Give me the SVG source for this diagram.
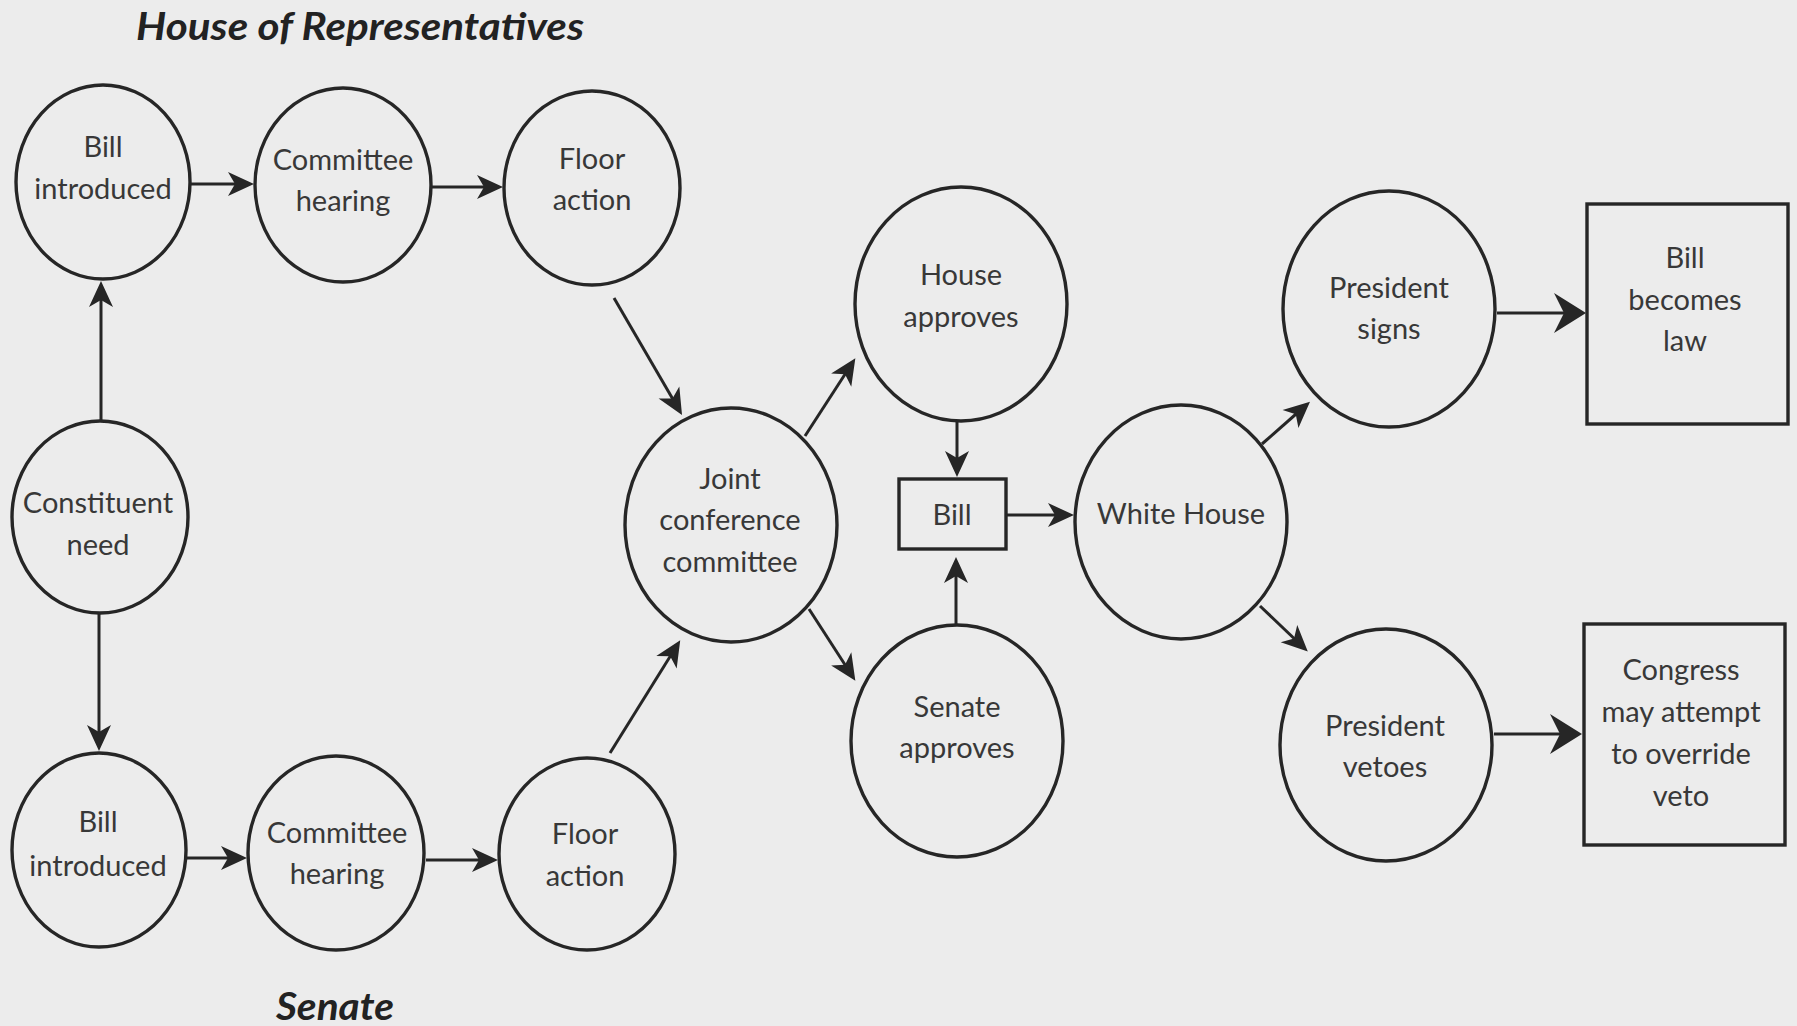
<svg xmlns="http://www.w3.org/2000/svg" width="1797" height="1026" viewBox="0 0 1797 1026">
  <style>
    .node ellipse, .node rect { fill: none; stroke: #262626; stroke-width: 3.4; }
    .node text { font-family: Lato, "Open Sans", "Liberation Sans", sans-serif; font-size: 29px; fill: #383838; text-anchor: middle; }
    .heading { font-family: Lato, "Open Sans", "Liberation Sans", sans-serif; font-weight: 700; font-style: italic; font-size: 38px; fill: #222; }
    #connectors line { stroke: #262626; stroke-width: 3; fill: none; }
    .arrow { marker-end: url(#head); }
    .arrow-big { marker-end: url(#headBig); }
  </style>
  <defs>
    <!-- notched arrowhead; line ends 8px before the tip -->
    <marker id="head" markerUnits="userSpaceOnUse" viewBox="-19 -13 28 26" markerWidth="28" markerHeight="26" refX="0" refY="0" orient="auto">
      <path d="M8,0 L-18,-12 L-11,0 L-18,12 Z" fill="#262626"/>
    </marker>
    <marker id="headBig" markerUnits="userSpaceOnUse" viewBox="-25 -21 35 42" markerWidth="35" markerHeight="42" refX="0" refY="0" orient="auto">
      <path d="M9,0 L-23,-20 L-13,0 L-23,20 Z" fill="#262626"/>
    </marker>
  </defs>

  <rect x="0" y="0" width="1797" height="1026" fill="#ececec"/>

  <text class="heading" x="136" y="40" textLength="448" lengthAdjust="spacingAndGlyphs">House of Representatives</text>
  <text class="heading" x="276" y="1020" textLength="118" lengthAdjust="spacingAndGlyphs">Senate</text>

  <g id="connectors">
    <line class="arrow" x1="191" y1="184" x2="246" y2="184"/>
    <line class="arrow" x1="432" y1="187" x2="495" y2="187"/>
    <line class="arrow" x1="101" y1="421" x2="101" y2="289"/>
    <line class="arrow" x1="99" y1="613" x2="99" y2="743"/>
    <line class="arrow" x1="186" y1="858" x2="239" y2="858"/>
    <line class="arrow" x1="426" y1="860" x2="490" y2="860"/>
    <line class="arrow" x1="614" y1="298" x2="678" y2="408"/>
    <line class="arrow" x1="610" y1="753" x2="676" y2="647"/>
    <line class="arrow" x1="805" y1="436" x2="851" y2="365"/>
    <line class="arrow" x1="809" y1="609" x2="851" y2="674"/>
    <line class="arrow" x1="957" y1="421" x2="957" y2="469"/>
    <line class="arrow" x1="956" y1="625" x2="956" y2="565"/>
    <line class="arrow" x1="1006" y1="515" x2="1066" y2="515"/>
    <line class="arrow" x1="1262" y1="444" x2="1304" y2="407"/>
    <line class="arrow" x1="1260" y1="606" x2="1302" y2="646"/>
    <line class="arrow-big" x1="1497" y1="313" x2="1577" y2="313"/>
    <line class="arrow-big" x1="1494" y1="734" x2="1573" y2="734"/>
  </g>

  <g id="house-bill-introduced" class="node">
    <ellipse cx="103" cy="182" rx="87" ry="97"/>
    <text x="103" y="157">Bill</text>
    <text x="103" y="199">introduced</text>
  </g>
  <g id="house-committee-hearing" class="node">
    <ellipse cx="343" cy="185" rx="88" ry="97"/>
    <text x="343" y="170">Committee</text>
    <text x="343" y="211">hearing</text>
  </g>
  <g id="house-floor-action" class="node">
    <ellipse cx="592" cy="188" rx="88" ry="97"/>
    <text x="592" y="169">Floor</text>
    <text x="592" y="210">action</text>
  </g>
  <g id="constituent-need" class="node">
    <ellipse cx="100" cy="517" rx="88" ry="96"/>
    <text x="98" y="513">Constituent</text>
    <text x="98" y="555">need</text>
  </g>
  <g id="senate-bill-introduced" class="node">
    <ellipse cx="99" cy="850" rx="87" ry="97"/>
    <text x="98" y="832">Bill</text>
    <text x="98" y="876">introduced</text>
  </g>
  <g id="senate-committee-hearing" class="node">
    <ellipse cx="336" cy="853" rx="88" ry="97"/>
    <text x="337" y="843">Committee</text>
    <text x="337" y="884">hearing</text>
  </g>
  <g id="senate-floor-action" class="node">
    <ellipse cx="587" cy="854" rx="88" ry="96"/>
    <text x="585" y="844">Floor</text>
    <text x="585" y="886">action</text>
  </g>
  <g id="joint-conference-committee" class="node">
    <ellipse cx="731" cy="525" rx="106" ry="117"/>
    <text x="730" y="489">Joint</text>
    <text x="730" y="530">conference</text>
    <text x="730" y="572">committee</text>
  </g>
  <g id="house-approves" class="node">
    <ellipse cx="961" cy="304" rx="106" ry="117"/>
    <text x="961" y="285">House</text>
    <text x="961" y="327">approves</text>
  </g>
  <g id="senate-approves" class="node">
    <ellipse cx="957" cy="741" rx="106" ry="116"/>
    <text x="957" y="717">Senate</text>
    <text x="957" y="758">approves</text>
  </g>
  <g id="bill" class="node">
    <rect x="899" y="479" width="107" height="70"/>
    <text x="952" y="525">Bill</text>
  </g>
  <g id="white-house" class="node">
    <ellipse cx="1181" cy="522" rx="106" ry="117"/>
    <text x="1181" y="524">White House</text>
  </g>
  <g id="president-signs" class="node">
    <ellipse cx="1389" cy="309" rx="106" ry="118"/>
    <text x="1389" y="298">President</text>
    <text x="1389" y="339">signs</text>
  </g>
  <g id="president-vetoes" class="node">
    <ellipse cx="1386" cy="745" rx="106" ry="116"/>
    <text x="1385" y="736">President</text>
    <text x="1385" y="777">vetoes</text>
  </g>
  <g id="bill-becomes-law" class="node">
    <rect x="1587" y="204" width="201" height="220"/>
    <text x="1685" y="268">Bill</text>
    <text x="1685" y="310">becomes</text>
    <text x="1685" y="351">law</text>
  </g>
  <g id="congress-override" class="node">
    <rect x="1584" y="624" width="201" height="221"/>
    <text x="1681" y="680">Congress</text>
    <text x="1681" y="722">may attempt</text>
    <text x="1681" y="764">to override</text>
    <text x="1681" y="806">veto</text>
  </g>
</svg>
